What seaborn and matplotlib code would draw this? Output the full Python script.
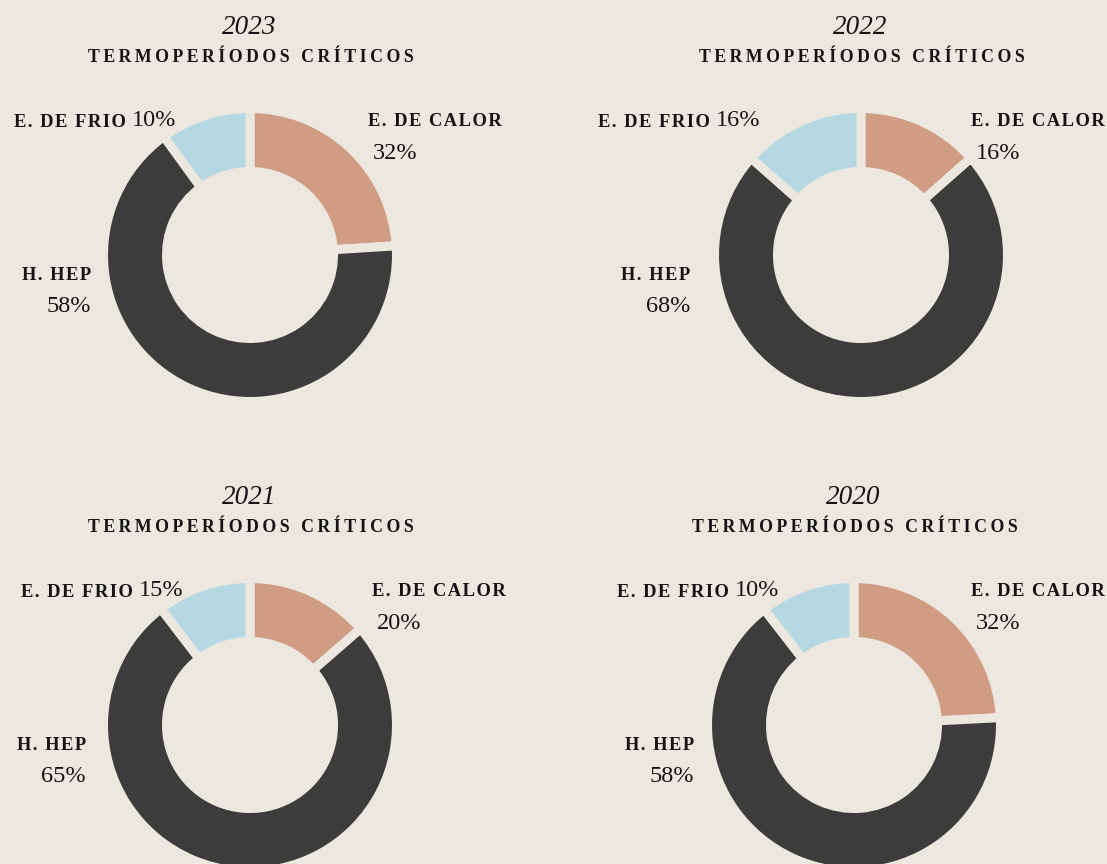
"""
Termoperíodos críticos por año: cuatro donuts (calor / HEP / frío).
"""

import matplotlib
matplotlib.use("Agg")
import matplotlib.pyplot as plt
import seaborn as sns

# --- datos -----------------------------------------------------------------
YEARS = ["2023", "2022", "2021", "2020"]
CATEGORIES = ["E. DE CALOR", "H. HEP", "E. DE FRIO"]

# tamaño de cada sector tal como se dibuja
CALOR_SHARE = [24.0, 13.5, 13.6, 24.2]
HEP_SHARE = [66.0, 73.0, 76.0, 65.3]
FRIO_SHARE = [10.0, 13.5, 10.4, 10.5]

# porcentajes escritos en las etiquetas
CALOR_LABEL = ["32%", "16%", "20%", "32%"]
HEP_LABEL = ["58%", "68%", "65%", "58%"]
FRIO_LABEL = ["10%", "16%", "15%", "10%"]

SUBTITLE = "TERMOPERÍODOS CRÍTICOS"

# --- estilo / maquetación --------------------------------------------------
W, H = 1107, 864
BG = "#ECE8E0"
INK = "#141414"
COLORS = sns.color_palette(["#D19C84", "#3C3C3A", "#B5D8E3"])

CENTERS = [(250, 255), (861, 255), (250, 725), (854, 725)]
FRIO_DX = [-74, -101, -67, -75]      # borde derecho de la etiqueta de frío
CALOR_DX = [118, 110, 122, 117]      # borde izquierdo de la etiqueta de calor
HEP_DX = [-159, -171, -164, -160]    # borde derecho de la etiqueta HEP

RADIUS = 146.5
RING = 63
GAP = 6.5

sns.set_theme(style="white", rc={"figure.facecolor": BG, "axes.facecolor": BG,
                                 "savefig.facecolor": BG})
plt.rcParams["font.family"] = ["Liberation Serif", "DejaVu Serif"]


def tracked(s, sep):
    # espaciado de letras para las versalitas
    return sep.join(s)


NAME_KW = dict(fontsize=13.3, fontweight="bold", color=INK)
PCT_KW = dict(fontsize=17.5, color=INK)

fig = plt.figure(figsize=(W / 100, H / 100), dpi=100)
ax = fig.add_axes([0, 0, 1, 1])


def y(py):
    return H - py


for i, year in enumerate(YEARS):
    cx, cy = CENTERS[i]
    vals = [CALOR_SHARE[i], HEP_SHARE[i], FRIO_SHARE[i]]
    ax.pie(vals, colors=COLORS, radius=RADIUS, center=(cx, y(cy)),
           startangle=90, counterclock=False,
           wedgeprops=dict(width=RING, edgecolor=BG, linewidth=GAP))

    ax.text(cx - 1, y(cy - 221), year, ha="center", va="baseline",
            fontsize=19.5, fontstyle="italic", color=INK)
    ax.text(cx + 1, y(cy - 193), tracked(SUBTITLE, "\u2009"), ha="center",
            va="baseline", fontsize=12.8, fontweight="bold", color=INK)

    # calor
    ax.text(cx + CALOR_DX[i], y(cy - 129), tracked(CATEGORIES[0], "\u200a"),
            ha="left", va="baseline", **NAME_KW)
    ax.text(cx + CALOR_DX[i] + 5, y(cy - 96), CALOR_LABEL[i], ha="left",
            va="baseline", **PCT_KW)

    # HEP
    ax.text(cx + HEP_DX[i], y(cy + 25), tracked(CATEGORIES[1], "\u200a"),
            ha="right", va="baseline", **NAME_KW)
    ax.text(cx + HEP_DX[i], y(cy + 57), HEP_LABEL[i], ha="right",
            va="baseline", **PCT_KW)

    # frío: nombre + porcentaje en la misma línea
    pct = ax.text(cx + FRIO_DX[i], y(cy - 129), FRIO_LABEL[i], ha="right",
                  va="baseline", **PCT_KW)
    ax.annotate(tracked(CATEGORIES[2], "\u200a"), xy=(0, 0), xycoords=pct,
                xytext=(-4, 0), textcoords="offset points", ha="right",
                va="bottom", **NAME_KW)

ax.set_xlim(0, W)
ax.set_ylim(0, H)
ax.set_aspect("equal")
ax.axis("off")

fig.savefig("out.png", dpi=100, facecolor=BG)
plt.close(fig)
